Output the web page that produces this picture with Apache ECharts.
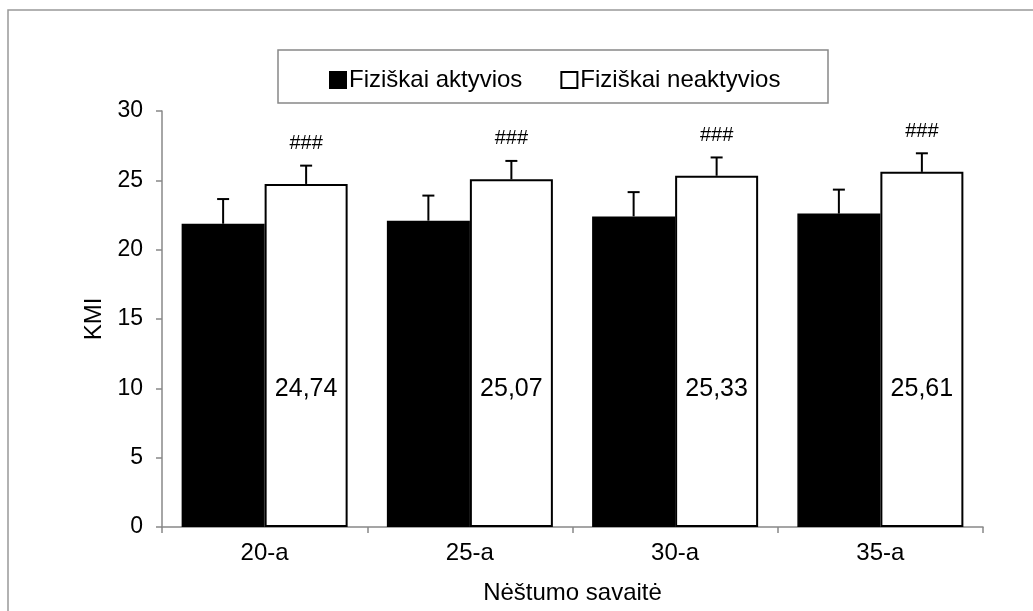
<!DOCTYPE html>
<html>
<head>
<meta charset="utf-8">
<script src="https://cdn.jsdelivr.net/npm/echarts@6/dist/echarts.min.js"></script>
<style>
  html, body { margin: 0; padding: 0; background: #fff; }
  #chart { width: 1033px; height: 611px; }
</style>
</head>
<body>
<div id="chart"></div>
<script>
// data
var weeks = ['20-a', '25-a', '30-a', '35-a']
var activeMean = [21.87, 22.09, 22.4, 22.6]
var activeSd = [1.78, 1.81, 1.75, 1.73]
var inactiveMean = [24.74, 25.07, 25.33, 25.61]
var inactiveSd = [1.32, 1.33, 1.32, 1.34]
var inactiveMark = ['###', '###', '###', '###']
var yTicks = { min: 0, max: 30, interval: 5 }

var FONT = 'Liberation Sans'
var BAR_W = 83

var chart = echarts.init(document.getElementById('chart'))

function errorSeries(name, means, sds, side, marks) {
  return {
    name: name + ' sd',
    type: 'custom',
    silent: true,
    z: 5,
    data: means.map(function (m, i) { return [i, m, m + sds[i]] }),
    renderItem: function (params, api) {
      var base = api.coord([api.value(0), api.value(1)])
      var top = api.coord([api.value(0), api.value(2)])
      var x = base[0] + side * BAR_W / 2
      var cap = 6
      var children = [
        { type: 'line', shape: { x1: x, y1: base[1], x2: x, y2: top[1] }, style: { stroke: '#000', lineWidth: 2 } },
        { type: 'line', shape: { x1: x - cap, y1: top[1], x2: x + cap, y2: top[1] }, style: { stroke: '#000', lineWidth: 2 } }
      ]
      if (marks) {
        children.push({
          type: 'text',
          style: {
            text: marks[params.dataIndex], x: x, y: top[1] - 22,
            align: 'center', verticalAlign: 'middle',
            fontFamily: FONT, fontSize: 20, fill: '#000'
          }
        })
      }
      return { type: 'group', children: children }
    }
  }
}

chart.setOption({
  animation: false,
  backgroundColor: '#fff',
  textStyle: { fontFamily: FONT },
  graphic: [
    { type: 'rect', shape: { x: 8, y: 10, width: 1100, height: 700 }, style: { fill: 'none', stroke: '#999', lineWidth: 1.5 }, silent: true },
    { type: 'rect', shape: { x: 278, y: 50, width: 550, height: 53 }, style: { fill: '#fff', stroke: '#888', lineWidth: 1.5 }, silent: true, z: -1 }
  ],
  legend: {
    left: 324,
    top: 63,
    itemWidth: 16,
    itemHeight: 16,
    itemGap: 38,
    icon: 'rect',
    textStyle: { fontFamily: FONT, fontSize: 24, color: '#000', padding: [0, 0, 0, -2] },
    data: ['Fiziškai aktyvios', 'Fiziškai neaktyvios']
  },
  grid: { left: 162, right: 50, top: 111, bottom: 84 },
  xAxis: {
    type: 'category',
    data: weeks,
    name: 'Nėštumo savaitė',
    nameLocation: 'middle',
    nameGap: 54,
    nameTextStyle: { fontFamily: FONT, fontSize: 24, color: '#000' },
    axisLine: { lineStyle: { color: '#888', width: 1.5 } },
    axisTick: { show: true, length: 6, lineStyle: { color: '#888', width: 1.5 } },
    axisLabel: { margin: 14, fontFamily: FONT, fontSize: 24, color: '#000' }
  },
  yAxis: {
    type: 'value',
    min: yTicks.min,
    max: yTicks.max,
    interval: yTicks.interval,
    name: 'KMI',
    nameLocation: 'middle',
    nameGap: 56,
    nameTextStyle: { fontFamily: FONT, fontSize: 24, color: '#000' },
    axisLine: { show: true, lineStyle: { color: '#888', width: 1.5 } },
    axisTick: { show: true, length: 6, lineStyle: { color: '#888', width: 1.5 } },
    axisLabel: { margin: 19, fontFamily: FONT, fontSize: 23, color: '#000' },
    splitLine: { show: false }
  },
  series: [
    {
      name: 'Fiziškai aktyvios',
      type: 'bar',
      barWidth: BAR_W,
      barGap: '0%',
      itemStyle: { color: '#000', borderColor: '#000', borderWidth: 1.5 },
      data: activeMean
    },
    {
      name: 'Fiziškai neaktyvios',
      type: 'bar',
      barWidth: BAR_W,
      barGap: '0%',
      itemStyle: { color: '#fff', borderColor: '#000', borderWidth: 2 },
      label: {
        show: true,
        position: 'insideBottom',
        distance: 125,
        fontFamily: FONT,
        fontSize: 25,
        color: '#000',
        formatter: function (p) { return String(p.value).replace('.', ',') }
      },
      data: inactiveMean
    },
    errorSeries('Fiziškai aktyvios', activeMean, activeSd, -1, null),
    errorSeries('Fiziškai neaktyvios', inactiveMean, inactiveSd, 1, inactiveMark)
  ]
})
</script>
</body>
</html>
